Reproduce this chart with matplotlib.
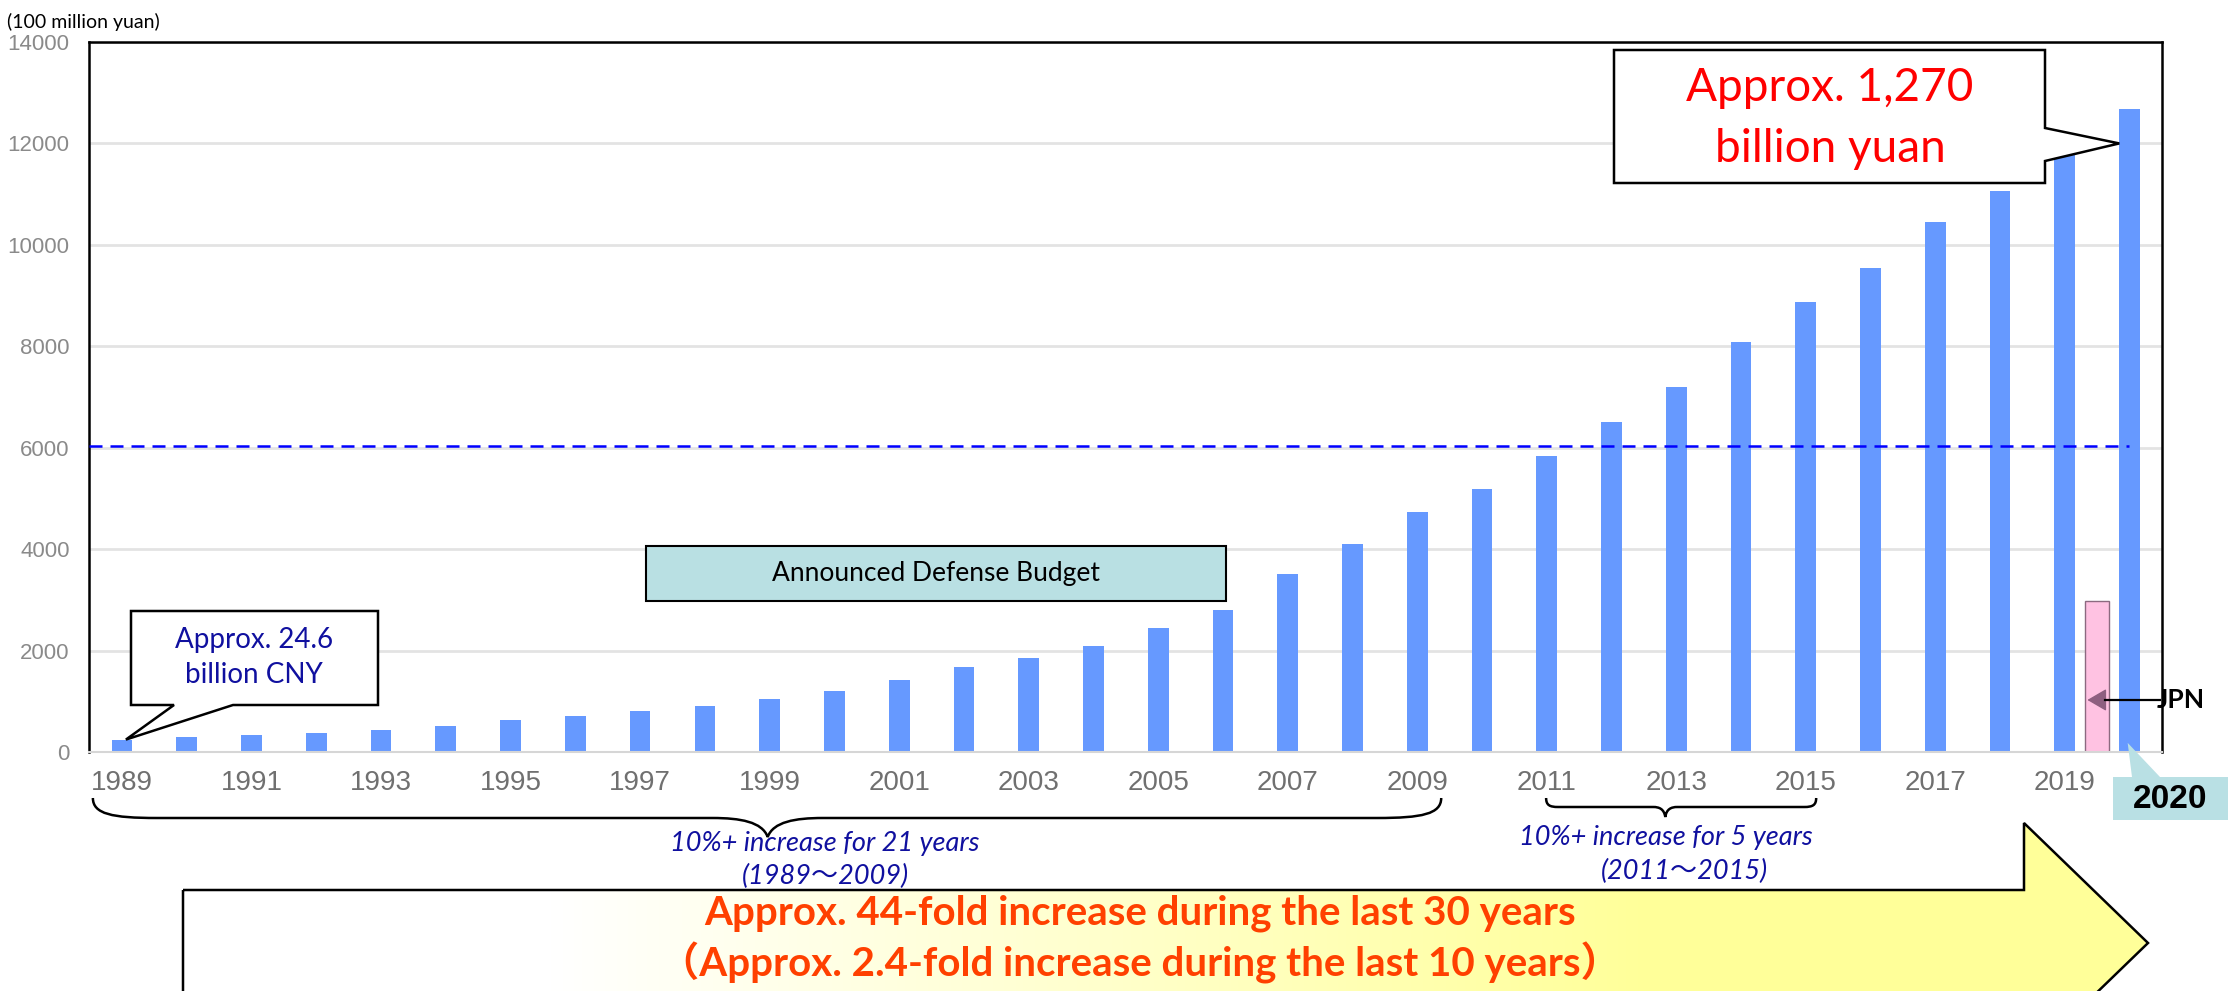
import matplotlib.pyplot as plt
import numpy as np
from matplotlib.patches import Polygon, Rectangle, PathPatch, FancyArrowPatch
from matplotlib.path import Path

# announced defense budget, 100 million yuan
years = list(range(1989, 2021))
budget = [245, 290, 330, 378, 432, 520, 631, 702, 806, 910,
          1047, 1205, 1410, 1684, 1853, 2100, 2447, 2807, 3509, 4099,
          4729, 5191, 5836, 6503, 7202, 8082, 8869, 9544, 10444, 11070,
          11899, 12680]
tick_years = years[:-1:2]
y_ticks = [0, 2000, 4000, 6000, 8000, 10000, 12000, 14000]
jpn_budget = 2980
ref_level = 6040

W, H = 2228, 991
BLUE_TXT = '#10109F'
ANN_FONT = ['Lato', 'Noto Sans CJK JP', 'DejaVu Sans']

fig = plt.figure(figsize=(W / 100, H / 100), dpi=100)
ax = fig.add_axes([89 / W, 1 - 752 / H, (2162 - 89) / W, (752 - 42) / H])

x = np.arange(len(years))
ax.bar(x, budget, width=0.32, color='#6699FF', zorder=2)
# Japan's budget for comparison, drawn between 2019 and 2020
jpn_x = x[-2] + 0.49
ax.bar(jpn_x, jpn_budget, width=0.37, color='#FFC2E2', edgecolor='#8C6A80',
       linewidth=1, zorder=2)
ax.axhline(ref_level, xmin=0, xmax=0.984, color='#0000FF', lw=1.8,
           ls=(0, (5.2, 3.2)), zorder=3)

ax.set_xlim(-0.51, 31.5)
ax.set_ylim(0, 14000)
ax.set_xticks([years.index(y) for y in tick_years])
ax.set_xticklabels([str(y) for y in tick_years], family='Liberation Sans',
                   fontsize=20, color='#707070')
ax.set_yticks(y_ticks)
ax.set_yticklabels([str(v) for v in y_ticks], family='Liberation Sans',
                   fontsize=16, color='#8A8A8A')
ax.tick_params(axis='x', length=0, pad=13)
ax.tick_params(axis='y', length=0, pad=14)
ax.yaxis.grid(True, color='#E3E3E3', lw=2)
ax.set_axisbelow(True)
for side in ['left', 'top', 'right']:
    ax.spines[side].set_linewidth(1.8)
    ax.spines[side].set_color('black')
ax.spines['bottom'].set_color('#D6D6D6')
ax.spines['bottom'].set_linewidth(1.5)

# overlay in figure pixels for the callouts and notes
ov = fig.add_axes([0, 0, 1, 1], zorder=5)
ov.axis('off')


def to_ov(xd, yd=0):
    d = ax.transData.transform((xd, yd))
    return d[0], H - d[1]


def brace(x0, x1, xc, ytop, ymid, ytip, r_end, r_mid):
    dy = ymid - ytop
    verts = [(x0, ytop),
             (x0, ytop + 0.8 * dy), (x0 + 0.3 * r_end, ymid), (x0 + r_end, ymid),
             (xc - r_mid, ymid),
             (xc - 0.5 * r_mid, ymid), (xc - 0.1 * r_mid, ymid + 0.2 * (ytip - ymid)), (xc, ytip),
             (xc + 0.1 * r_mid, ymid + 0.2 * (ytip - ymid)), (xc + 0.5 * r_mid, ymid), (xc + r_mid, ymid),
             (x1 - r_end, ymid),
             (x1 - 0.3 * r_end, ymid), (x1, ytop + 0.8 * dy), (x1, ytop)]
    codes = [Path.MOVETO] + [Path.CURVE4] * 3 + [Path.LINETO] + [Path.CURVE4] * 6 \
        + [Path.LINETO] + [Path.CURVE4] * 3
    ov.add_patch(PathPatch(Path(verts, codes), fc='none', ec='black', lw=1.8))


# big arrow at the bottom with white -> yellow gradient
arrow_pts = [(183, 890), (2024, 890), (2024, 823), (2148, 943),
             (2024, 1063), (2024, 996), (183, 996)]
arrow = Polygon(arrow_pts, closed=True, fc='none', ec='black', lw=1.8, zorder=3)
ov.add_patch(arrow)
xs = np.linspace(183, 2148, 512)
t = np.clip((xs - 550) / (1650 - 550), 0, 1)
grad = np.ones((1, len(xs), 3))
grad[0, :, 2] = 1 - 0.4 * t
img = ov.imshow(grad, extent=(183, 2148, 1063, 823), aspect='auto', zorder=2)
img.set_clip_path(arrow)

ov.text(1140, 925, 'Approx. 44-fold increase during the last 30 years',
        ha='center', va='baseline', fontsize=29, fontweight='bold',
        color='#FF4000', family=ANN_FONT, zorder=4)
ov.text(1140, 977, '（Approx. 2.4-fold increase during the last 10 years）',
        ha='center', va='baseline', fontsize=29, fontweight='bold',
        color='#FF4000', family=ANN_FONT, zorder=4)

# braces under the year axis
bx0, _ = to_ov(-0.45)
bx1, _ = to_ov(20.37)
bxc, _ = to_ov(9.97)
brace(bx0, bx1, bxc, 798, 818, 837, 64, 55)
sx0, _ = to_ov(21.99)
sx1, _ = to_ov(26.16)
sxc, _ = to_ov(23.83)
brace(sx0, sx1, sxc, 798, 807, 817, 12, 12)

ov.text(825, 843, '10%+ increase for 21 years', ha='center', va='center',
        fontsize=19.5, style='italic', color=BLUE_TXT, family=ANN_FONT, zorder=6)
ov.text(825, 876, '(1989～2009)', ha='center', va='center',
        fontsize=19.5, style='italic', color=BLUE_TXT, family=ANN_FONT, zorder=6)
ov.text(1666, 837, '10%+ increase for 5 years', ha='center', va='center',
        fontsize=19.5, style='italic', color=BLUE_TXT, family=ANN_FONT, zorder=6)
ov.text(1684, 871, '(2011～2015)', ha='center', va='center',
        fontsize=19.5, style='italic', color=BLUE_TXT, family=ANN_FONT, zorder=6)

# unit label
ov.text(7, 22, '(100 million yuan)', ha='left', va='center', fontsize=14,
        color='black', family=ANN_FONT)

# "Announced Defense Budget" label box
ov.add_patch(Rectangle((646, 546), 580, 55, fc='#B9E0E3', ec='black', lw=1.5))
ov.text(936, 574, 'Announced Defense Budget', ha='center', va='center',
        fontsize=19, color='black', family=ANN_FONT)

# callout for 2020 value
tip = to_ov(x[-1] - 0.16, 12000)
ov.add_patch(Polygon([(1614, 50), (2045, 50), (2045, 128), tip, (2045, 161),
                      (2045, 183), (1614, 183)], closed=True, fc='white',
                     ec='black', lw=1.8))
ov.text(1830, 88, 'Approx. 1,270', ha='center', va='center', fontsize=33,
        color='#FF0000', family=ANN_FONT)
ov.text(1830, 149, 'billion yuan', ha='center', va='center', fontsize=33,
        color='#FF0000', family=ANN_FONT)

# callout for 1989 value
tip = to_ov(x[0] + 0.06, budget[0])
ov.add_patch(Polygon([(131, 611), (378, 611), (378, 705), (233, 705), tip,
                      (174, 705), (131, 705)], closed=True, fc='white',
                     ec='black', lw=1.8))
ov.text(254, 640, 'Approx. 24.6', ha='center', va='center', fontsize=20,
        color=BLUE_TXT, family=ANN_FONT)
ov.text(254, 675, 'billion CNY', ha='center', va='center', fontsize=20,
        color=BLUE_TXT, family=ANN_FONT)

# "2020" tag under the last bar
tip = to_ov(x[-1] - 0.03, 180)
ov.add_patch(Polygon([tip, (2132, 777), (2160, 777)], closed=True,
                     fc='#B9E0E4', ec='none'))
ov.add_patch(Rectangle((2113, 777), 120, 43, fc='#B9E0E4', ec='none'))
ov.text(2170, 799, '2020', ha='center', va='center', fontsize=24,
        fontweight='bold', color='black', family='Liberation Sans')

# JPN pointer
jx, jy = to_ov(jpn_x - 0.185, 1026)
ov.add_patch(FancyArrowPatch((jx + 22, jy), (jx, jy),
                             arrowstyle='-|>,head_length=12,head_width=7',
                             mutation_scale=1, fc='#8E5F80', ec='#8E5F80', lw=1))
ov.plot([jx + 20, 2160], [jy, jy], color='black', lw=1.6)
ov.text(2157, jy, 'JPN', ha='left', va='center', fontsize=19,
        fontweight='bold', color='black', family=ANN_FONT)

ov.set_xlim(0, W)
ov.set_ylim(H, 0)

fig.savefig('out.png', dpi=100)
plt.close(fig)
